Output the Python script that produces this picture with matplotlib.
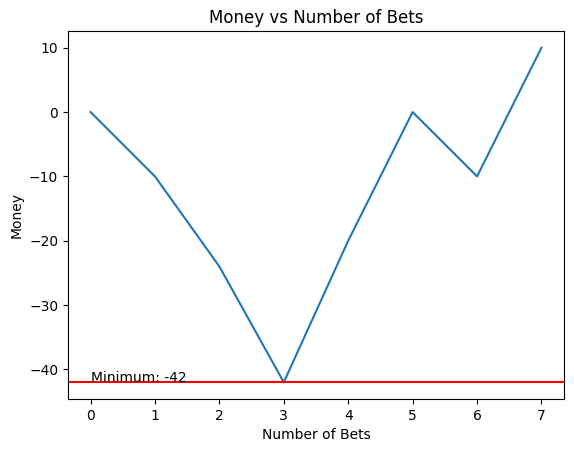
import matplotlib.pyplot as plt

bets = [0, 1, 2, 3, 4, 5, 6, 7]
money = [0, -10, -24, -42, -20, 0, -10, 10]
min_money = min(money)

fig = plt.figure(figsize=(5.74, 4.53), dpi=100)
ax = fig.add_axes([68 / 574, 54 / 453, 496 / 574, 368 / 453])

ax.plot(bets, money)
ax.axhline(min_money, color='red')
ax.text(0, min_money, f'Minimum: {min_money}')

ax.set_title('Money vs Number of Bets')
ax.set_xlabel('Number of Bets')
ax.set_ylabel('Money')

fig.savefig('out.png', dpi=100)
